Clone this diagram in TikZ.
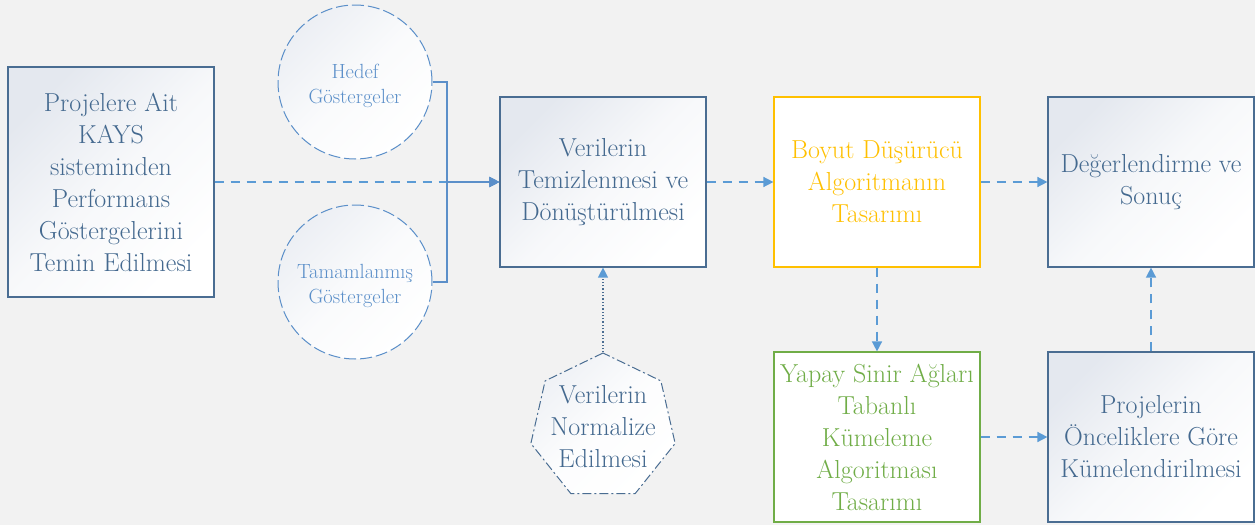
\documentclass[tikz,border=0pt]{standalone}
\usepackage{fontspec}
\usetikzlibrary{shapes.geometric,arrows.meta}
\definecolor{bg}{HTML}{F2F2F2}
\definecolor{txt}{HTML}{44698F}
\definecolor{bord}{HTML}{4A6D92}
\definecolor{arr}{HTML}{5B9BD5}
\definecolor{lt}{HTML}{5B8FC9}
\definecolor{gold}{HTML}{FFC000}
\definecolor{grn}{HTML}{70AD47}
\definecolor{shd}{HTML}{E4E8EF}
\tikzset{
  boxfont/.style={font=\fontsize{26}{32}\selectfont},
  gbox/.style={draw=bord, line width=1.2pt, top color=shd, bottom color=white, middle color=shd!30!white,
    shading angle=45,
    minimum width=206pt, minimum height=170pt, text=txt, boxfont, align=center, inner sep=0pt},
  wbox/.style={fill=white, line width=1.2pt, minimum width=206pt, minimum height=170pt,
    boxfont, align=center, inner sep=0pt},
  circ/.style={circle, draw=lt, line width=1pt, dash pattern=on 12pt off 4pt,
    top color=shd!70, bottom color=white, middle color=shd!20!white, shading angle=45,
    minimum size=154pt, inner sep=0pt},
  circtext/.style={text=lt, font=\fontsize{20.5}{25}\selectfont, align=center},
  hept/.style={regular polygon, regular polygon sides=7, draw=bord, line width=1pt,
    dash pattern=on 9pt off 3pt on 2pt off 3pt, top color=shd!60, bottom color=white,
    middle color=shd!10!white, shading angle=45,
    minimum size=148pt, inner sep=0pt},
  conn/.style={draw=arr, line width=1.5pt, dash pattern=on 9pt off 7pt,
    -{Triangle[length=10pt,width=10pt]}},
  solidconn/.style={draw=lt, line width=1.5pt, -{Triangle[length=10pt,width=10pt]}},
  dotconn/.style={draw=bord, line width=1.3pt, dotted, -{Triangle[length=10pt,width=10pt,color=arr]}},
}
\begin{document}
\begin{tikzpicture}[x=1pt,y=-1pt]
\fill[bg] (0,0) rectangle (1255,525);
\useasboundingbox (0,0) rectangle (1255,525);

\node[gbox, minimum height=230pt] (b1) at (111,182) {Projelere Ait\\KAYS\\sisteminden\\Performans\\Göstergelerini\\Temin Edilmesi};
\node[circ, label={[circtext, yshift=-4pt]center:Hedef\\Göstergeler}] (c1) at (355,82) {};
\node[circ, label={[circtext, yshift=-4pt]center:Tamamlanmış\\Göstergeler}] (c2) at (355,282) {};
\node[gbox] (b2) at (603,182) {Verilerin\\Temizlenmesi ve\\Dönüştürülmesi};
\node[hept, label={[text=txt, boxfont, align=center]center:Verilerin\\Normalize\\Edilmesi}] (h) at (603,427) {};
\node[wbox, draw=gold, text=gold] (b3) at (877,182) {Boyut Düşürücü\\Algoritmanın\\Tasarımı};
\node[gbox] (b4) at (1151,182) {Değerlendirme ve\\Sonuç};
\node[wbox, draw=grn, text=grn] (b5) at (877,437) {Yapay Sinir Ağları\\Tabanlı\\Kümeleme\\Algoritması\\Tasarımı};
\node[gbox] (b6) at (1151,437) {Projelerin\\Önceliklere Göre\\Kümelendirilmesi};

\draw[conn] (b1.east) -- (b2.west);
\draw[solidconn] (c1.east) -- ++(14.5,0) |- (b2.west);
\draw[solidconn] (c2.east) -- ++(14.5,0) |- (b2.west);
\draw[dotconn] (h.north) -- (b2.south);
\draw[conn] (b2.east) -- (b3.west);
\draw[conn] (b3.east) -- (b4.west);
\draw[conn] (b3.south) -- (b5.north);
\draw[conn] (b5.east) -- (b6.west);
\draw[conn] (b6.north) -- (b4.south);
\end{tikzpicture}
\end{document}
